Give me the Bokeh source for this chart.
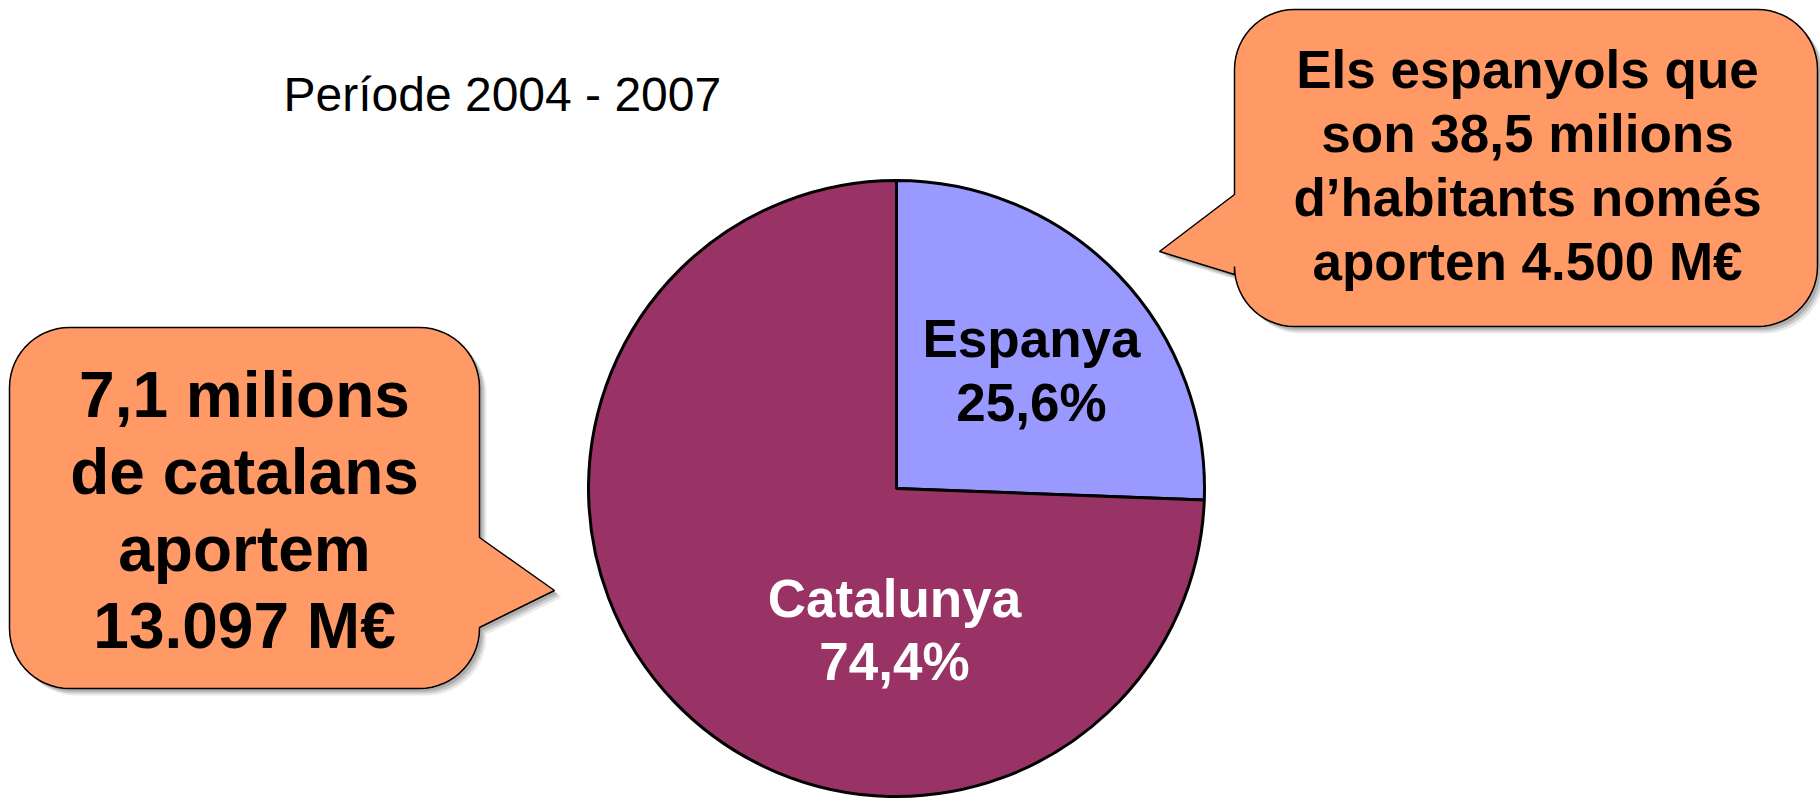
import numpy as np
from bokeh.plotting import figure
from bokeh.models import Range1d
from bokeh.core.properties import value
from bokeh.embed import file_html
from bokeh.resources import INLINE

# ---- data ----
categories = ["Espanya", "Catalunya"]
shares = [25.6, 74.4]
slice_colors = ["#9999FF", "#993366"]
label_colors = ["black", "white"]
title_text = "Període 2004 - 2007"
right_bubble_lines = ["Els espanyols que", "son 38,5 milions", "d\u2019habitants només", "aporten 4.500 M€"]
left_bubble_lines = ["7,1 milions", "de catalans", "aportem", "13.097 M€"]

# ---- layout (screen pixel coordinates of the 1820x799 page) ----
W, H = 1820, 799
FONT = value("Liberation Sans")


def Y(sy):
    return H - sy


p = figure(width=W, height=H, x_range=Range1d(0, W), y_range=Range1d(0, H),
           output_backend="svg", toolbar_location=None, min_border=0)
p.axis.visible = False
p.grid.visible = False
p.outline_line_color = None
p.background_fill_color = "white"
p.border_fill_color = "white"


def bubble_path(x0, x1, top, bottom, r, side, py0, py1, tip):
    xs, ys = [], []

    def arc(cx, cy, a0, a1):
        for a in np.linspace(np.radians(a0), np.radians(a1), 16):
            xs.append(cx + r * np.cos(a))
            ys.append(cy + r * np.sin(a))

    arc(x1 - r, top + r, -90, 0)
    if side == "right":
        xs.extend([x1, tip[0], x1]); ys.extend([py0, tip[1], py1])
    arc(x1 - r, bottom - r, 0, 90)
    arc(x0 + r, bottom - r, 90, 180)
    if side == "left":
        xs.extend([x0, tip[0], x0]); ys.extend([py1, tip[1], py0])
    arc(x0 + r, top + r, 180, 270)
    return np.array(xs), np.array(ys)


def draw_bubble(xs, ys):
    for off, a in [(7, 0.12), (5, 0.2), (3, 0.25)]:
        p.patch(xs + off, Y(ys + off), fill_color="#555555", fill_alpha=a, line_color=None)
    p.patch(xs, Y(ys), fill_color="#FF9966", line_color="black", line_width=1.5)


# title
p.text(x=[283], y=[Y(94)], text=[title_text], text_font=FONT, text_font_size="48px",
       text_color="black", text_baseline="alphabetic", text_align="left")

# pie
cx, cy, R = 896, 488, 308
fr = np.array(shares) / sum(shares)
ends = np.pi / 2 - np.concatenate([[0], np.cumsum(fr)[:-1]]) * 2 * np.pi
starts = ends - fr * 2 * np.pi
p.wedge(x=[cx] * len(categories), y=[Y(cy)] * len(categories), radius=R,
        start_angle=list(starts), end_angle=list(ends),
        fill_color=slice_colors, line_color="black", line_width=3)

# slice labels
label_pos = [(1031, 338, 402), (894, 598, 661)]
for cat, sh, col, (lx, b1, b2) in zip(categories, shares, label_colors, label_pos):
    pct = f"{sh:.1f}%".replace(".", ",")
    p.text(x=[lx, lx], y=[Y(b1), Y(b2)], text=[cat, pct], text_font=FONT, text_font_size="53px",
           text_font_style="bold", text_color=col, text_align="center", text_baseline="alphabetic")

# right bubble
xs, ys = bubble_path(1234, 1817, 9, 326, 60, "left", 194, 274, (1159, 251))
draw_bubble(xs, ys)
p.text(x=[1527] * 4, y=[Y(b) for b in [69, 133, 197, 261]], text=right_bubble_lines,
       text_font=FONT, text_font_size="53px", text_font_style="bold", text_color="black",
       text_align="center", text_baseline="alphabetic")

# left bubble
xs, ys = bubble_path(9, 479, 327, 688, 60, "right", 537, 627, (554, 590))
draw_bubble(xs, ys)
p.text(x=[244] * 4, y=[Y(b) for b in [394, 471, 548, 625]], text=left_bubble_lines,
       text_font=FONT, text_font_size="64px", text_font_style="bold", text_color="black",
       text_align="center", text_baseline="alphabetic")

open("out.html", "w").write(file_html(p, INLINE))
